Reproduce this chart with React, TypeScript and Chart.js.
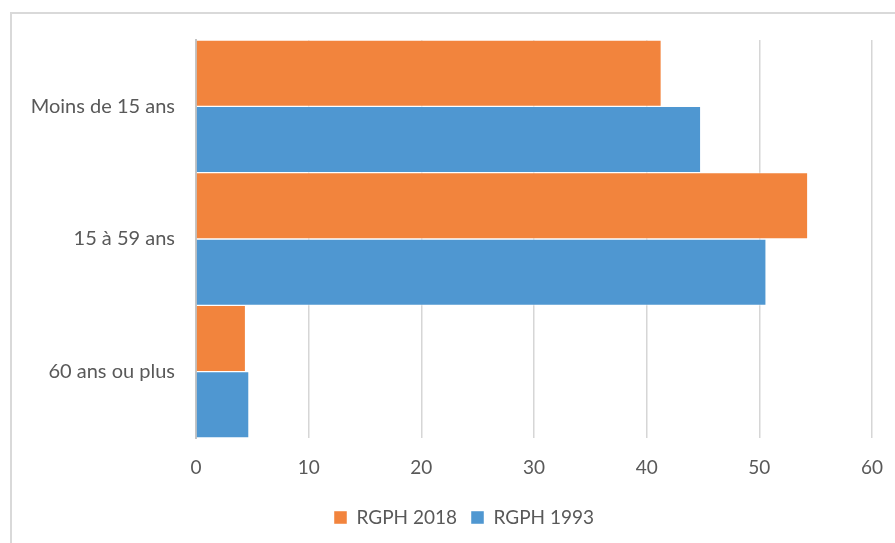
import React, { useEffect, useRef } from "react";
import { Chart, registerables } from "chart.js";

Chart.register(...registerables);

const categories = ["Moins de 15 ans", "15 à 59 ans", "60 ans ou plus"];
const rgph2018 = [41.3, 54.3, 4.4];
const rgph1993 = [44.8, 50.6, 4.7];
const seriesNames = ["RGPH 2018", "RGPH 1993"];
const xMin = 0;
const xMax = 60;
const xStep = 10;

const FONT = "Lato, 'Open Sans', sans-serif";
const TEXT = "#595959";

// Slide the bottom legend right so it sits centred under the whole frame.
const legendShift = {
  id: "legendShift",
  afterLayout(chart: any) {
    const lg = chart.legend;
    if (lg) {
      lg.left += 28;
      lg.right += 28;
    }
  },
};

export default function App() {
  const canvasRef = useRef<HTMLCanvasElement | null>(null);

  useEffect(() => {
    document.body.style.margin = "0";
    const ctx = canvasRef.current;
    if (!ctx) return;
    const chart = new Chart(ctx, {
      type: "bar",
      data: {
        labels: categories,
        datasets: [
          {
            label: seriesNames[0],
            data: rgph2018,
            backgroundColor: "#F2843D",
            borderColor: "rgba(255,255,255,0.45)",
            borderWidth: 1,
            categoryPercentage: 1,
            barPercentage: 1,
          },
          {
            label: seriesNames[1],
            data: rgph1993,
            backgroundColor: "#4F97D1",
            borderColor: "rgba(255,255,255,0.45)",
            borderWidth: 1,
            categoryPercentage: 1,
            barPercentage: 1,
          },
        ],
      },
      options: {
        indexAxis: "y",
        animation: false,
        responsive: false,
        maintainAspectRatio: false,
        layout: { padding: { top: 40, left: 0, right: 23, bottom: 6 } },
        scales: {
          x: {
            min: xMin,
            max: xMax,
            ticks: {
              stepSize: xStep,
              color: TEXT,
              font: { family: FONT, size: 19 },
              padding: 18,
            },
            grid: { color: "#d6d6d6", lineWidth: 1.5, drawTicks: false },
            border: { display: false },
            afterFit: (s: any) => {
              s.height = 56;
              s.paddingLeft = 0;
              s.paddingRight = 0;
            },
          },
          y: {
            ticks: {
              color: TEXT,
              font: { family: FONT, size: 20 },
              padding: 21,
            },
            grid: { display: false, drawTicks: false },
            border: { display: true, color: "#c4c4c4", width: 2 },
            afterFit: (s: any) => {
              s.width = 196;
              s.paddingTop = 0;
              s.paddingBottom = 0;
            },
          },
        },
        plugins: {
          legend: {
            position: "bottom",
            labels: {
              color: TEXT,
              font: { family: FONT, size: 19 },
              boxWidth: 13,
              boxHeight: 13,
              padding: 14,
            },
          },
          tooltip: { enabled: false },
        },
      },
      plugins: [legendShift],
    });
    return () => chart.destroy();
  }, []);

  return (
    <div style={{ position: "relative", width: 895, height: 543, overflow: "hidden", background: "#fff" }}>
      <div
        style={{
          position: "absolute",
          left: 10,
          top: 12,
          width: 900,
          height: 560,
          border: "2px solid #d9d9d9",
          boxSizing: "border-box",
        }}
      />
      <canvas ref={canvasRef} width={895} height={543} style={{ position: "absolute", left: 0, top: 0 }} />
    </div>
  );
}
